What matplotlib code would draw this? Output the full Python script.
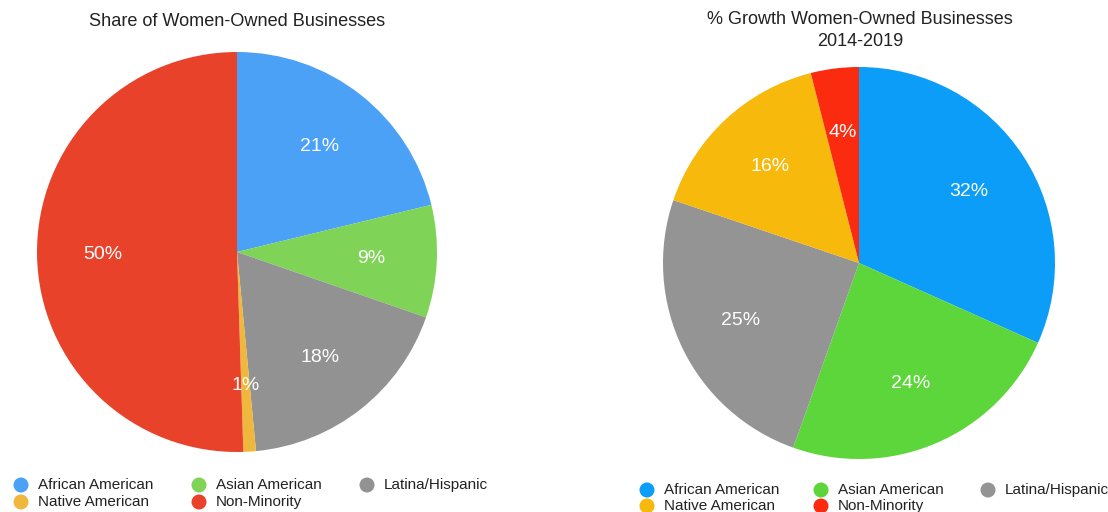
import matplotlib
matplotlib.use("Agg")
import matplotlib.pyplot as plt
from matplotlib.patches import Circle

plt.rcParams['font.family'] = ['Liberation Sans', 'DejaVu Sans']

categories = ["African American", "Asian American", "Latina/Hispanic",
              "Native American", "Non-Minority"]
share_pct = [21, 9, 18, 1, 50]
growth_pct = [32, 24, 25, 16, 4]

share_colors = ["#4aa1f6", "#7fd457", "#929292", "#efb73c", "#e8432a"]
growth_colors = ["#0b9df8", "#5dd63b", "#949494", "#f6b90c", "#fb2b10"]

W, H = 1108, 512
fig = plt.figure(figsize=(W / 100, H / 100), dpi=100)


def px_axes(cx, cy, r):
    return fig.add_axes([(cx - r) / W, (H - cy - r) / H, 2 * r / W, 2 * r / H])


def draw_pie(ax, values, colors):
    wedges, texts, autotexts = ax.pie(
        values, colors=colors, startangle=90, counterclock=False,
        autopct=lambda p: "", pctdistance=0.67, radius=1.0,
        wedgeprops=dict(linewidth=0))
    for at, v in zip(autotexts, values):
        at.set_text(f"{v}%")
        at.set_color("white")
        at.set_fontsize(14)
    ax.set_xlim(-1, 1)
    ax.set_ylim(-1, 1)
    ax.set_aspect("equal")
    ax.axis("off")
    return wedges


ax1 = px_axes(237, 252, 200)
draw_pie(ax1, share_pct, share_colors)
ax2 = px_axes(859, 263, 196)
draw_pie(ax2, growth_pct, growth_colors)

fig.text(237 / W, 1 - 22 / H, "Share of Women-Owned Businesses",
         ha="center", va="center", fontsize=13.1, color="#222222")
fig.text(860 / W, 1 - 30.5 / H, "% Growth Women-Owned Businesses\n2014-2019",
         ha="center", va="center", fontsize=13, color="#222222",
         linespacing=1.35)


def draw_legend(col_x, row_y, colors):
    slots = [(0, 0), (1, 0), (2, 0), (0, 1), (1, 1)]
    for (c, r), name, col in zip(slots, categories, colors):
        x, y = col_x[c], row_y[r]
        fig.patches.append(Circle((x, H - y), 7.5, transform=None,
                                  facecolor=col, edgecolor="none"))
        fig.text((x + 17) / W, 1 - y / H, name, ha="left", va="center",
                 fontsize=11, color="#222222")


draw_legend([21, 199, 367], [485, 502], share_colors)
draw_legend([647, 821, 988], [490, 506], growth_colors)

fig.savefig("out.png", dpi=100, facecolor="white")
